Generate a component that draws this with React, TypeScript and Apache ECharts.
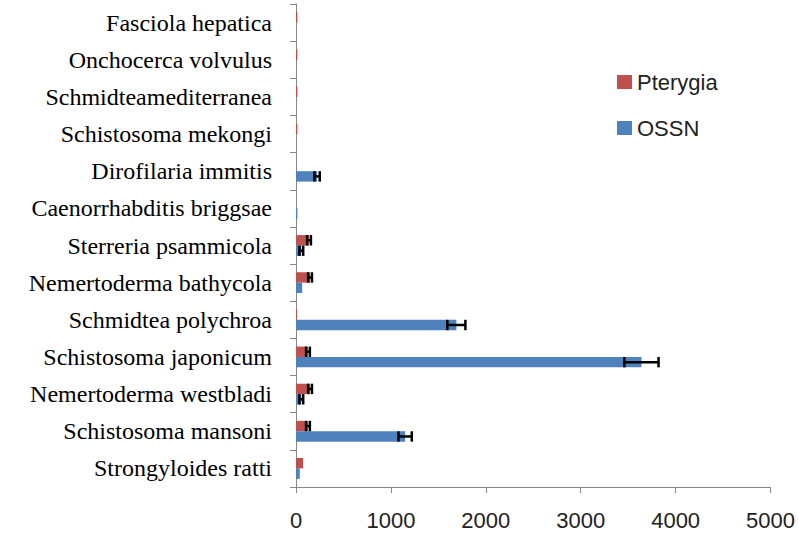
import React, { useEffect, useRef } from "react";
import * as echarts from "echarts";

const categories = [
  "Strongyloides ratti",
  "Schistosoma mansoni",
  "Nemertoderma westbladi",
  "Schistosoma japonicum",
  "Schmidtea polychroa",
  "Nemertoderma bathycola",
  "Sterreria psammicola",
  "Caenorrhabditis briggsae",
  "Dirofilaria immitis",
  "Schistosoma mekongi",
  "Schmidteamediterranea",
  "Onchocerca volvulus",
  "Fasciola hepatica",
];

const pterygia = [75, 126, 148, 126, 12, 148, 137, 0, 0, 15, 15, 15, 15];
const pterygiaErr = [0, 20, 20, 20, 0, 20, 20, 0, 0, 0, 0, 0, 0];
const ossn = [40, 1150, 56, 3640, 1690, 65, 56, 15, 222, 0, 0, 0, 0];
const ossnErr = [0, 70, 20, 180, 95, 0, 20, 0, 28, 0, 0, 0, 0];

const xTicks = { min: 0, max: 5000, interval: 1000 };

const GAP = 0.44;
const HALF = (1 - GAP) / 4; // center offset of each bar as fraction of band

function errData(vals: number[], errs: number[]) {
  const out: number[][] = [];
  vals.forEach((v, i) => {
    if (errs[i] > 0) out.push([v, i, errs[i]]);
  });
  return out;
}

function makeRender(offsetSign: number) {
  return (params: any, api: any) => {
    const v = api.value(0);
    const cat = api.value(1);
    const e = api.value(2);
    const band = api.size([0, 1])[1];
    const off = offsetSign * HALF * band;
    const lo = api.coord([v - e, cat]);
    const hi = api.coord([v + e, cat]);
    const y = lo[1] + off;
    const capH = band * (1 - GAP) / 2;
    const style = { stroke: "#000", lineWidth: 2.5 };
    return {
      type: "group",
      children: [
        { type: "line", shape: { x1: lo[0], y1: y, x2: hi[0], y2: y }, style },
        { type: "line", shape: { x1: lo[0], y1: y - capH / 2, x2: lo[0], y2: y + capH / 2 }, style },
        { type: "line", shape: { x1: hi[0], y1: y - capH / 2, x2: hi[0], y2: y + capH / 2 }, style },
      ],
    };
  };
}

export default function App() {
  const ref = useRef<HTMLDivElement>(null);
  useEffect(() => {
    if (!ref.current) return;
    const chart = echarts.init(ref.current, null, { renderer: "svg" });
    chart.setOption({
      animation: false,
      backgroundColor: "#fff",
      grid: { left: 296, right: 23, top: 4, bottom: 51 },
      legend: {
        data: ["Pterygia", "OSSN"],
        orient: "vertical",
        left: 612,
        top: 66,
        itemWidth: 15,
        itemHeight: 14,
        itemGap: 24,
        icon: "rect",
        textStyle: { fontFamily: "Liberation Sans", fontSize: 22, color: "#222" },
      },
      xAxis: {
        type: "value",
        min: xTicks.min,
        max: xTicks.max,
        interval: xTicks.interval,
        splitLine: { show: false },
        axisLine: { show: true, lineStyle: { color: "#868686" } },
        axisTick: { show: true, length: 6, lineStyle: { color: "#868686" } },
        axisLabel: {
          fontFamily: "Liberation Sans",
          fontSize: 22,
          color: "#222",
          margin: 22,
          formatter: (v: number) => String(v),
        },
      },
      yAxis: {
        type: "category",
        data: categories,
        axisLine: { lineStyle: { color: "#868686" } },
        axisTick: { show: true, length: 6, lineStyle: { color: "#868686" } },
        axisLabel: { fontFamily: "Liberation Serif", fontSize: 24, color: "#000", margin: 24 },
      },
      series: [
        {
          name: "Pterygia",
          type: "bar",
          data: pterygia,
          itemStyle: { color: "#C0504D" },
          barGap: "0%",
          barCategoryGap: GAP * 100 + "%",
        },
        {
          name: "OSSN",
          type: "bar",
          data: ossn,
          itemStyle: { color: "#4F81BD" },
          barGap: "0%",
          barCategoryGap: GAP * 100 + "%",
        },
        {
          name: "errP",
          type: "custom",
          renderItem: makeRender(-1),
          encode: { x: 0, y: 1 },
          data: errData(pterygia, pterygiaErr),
          z: 5,
        },
        {
          name: "errO",
          type: "custom",
          renderItem: makeRender(1),
          encode: { x: 0, y: 1 },
          data: errData(ossn, ossnErr),
          z: 5,
        },
      ],
    });
    return () => chart.dispose();
  }, []);
  return (
    <div
      ref={ref}
      style={{ position: "absolute", left: 0, top: 0, width: 798, height: 538 }}
    />
  );
}
